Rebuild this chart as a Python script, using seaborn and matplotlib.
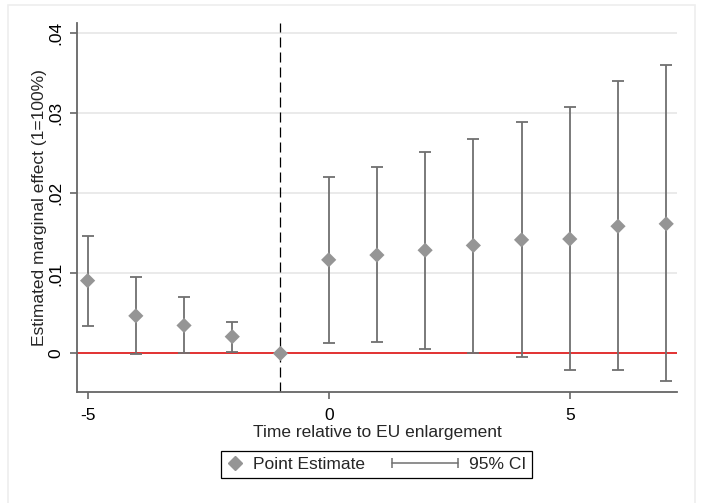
import numpy as np
import pandas as pd
import matplotlib
matplotlib.use("Agg")
import matplotlib.pyplot as plt
import seaborn as sns
from matplotlib.lines import Line2D
from matplotlib.patches import Rectangle
from matplotlib.legend_handler import HandlerLine2D
from matplotlib.ticker import FuncFormatter

# event-time coefficients
periods = [-5, -4, -3, -2, -1, 0, 1, 2, 3, 4, 5, 6, 7]
estimate = [0.0091, 0.0047, 0.0035, 0.0021, 0.0, 0.0117, 0.0123, 0.0129,
            0.0135, 0.0142, 0.0143, 0.0159, 0.0162]
ci_low = [0.0034, -0.0001, 0.0001, 0.0002, None, 0.0013, 0.0014, 0.0006,
          0.0001, -0.0004, -0.0021, -0.0021, -0.0034]
ci_high = [0.0147, 0.0096, 0.0070, 0.0039, None, 0.0221, 0.0233, 0.0252,
           0.0268, 0.0289, 0.0308, 0.0340, 0.0360]
y_ticks = [0, 0.01, 0.02, 0.03, 0.04]
x_ticks = [-5, 0, 5]

df = pd.DataFrame({'t': periods, 'b': estimate, 'lo': ci_low, 'hi': ci_high})
ci = df.dropna(subset=['lo', 'hi'])

sns.set_style("white")
plt.rcParams['font.family'] = ['Liberation Sans', 'DejaVu Sans']
plt.rcParams['axes.unicode_minus'] = False

fs = 12.5

fig = plt.figure(figsize=(7.02, 5.03), dpi=100)
fig.patches.append(Rectangle((8/702, -0.05), 687/702, 1.05 - 5/503, transform=fig.transFigure,
                             fill=False, edgecolor='#eeeeee', linewidth=1.2))
ax = fig.add_axes([77/702, 1 - 391.7/503, 600.3/702, 368.7/503])

pt_col = '#959595'
ci_col = '#707070'

# grid lines
for yt in y_ticks:
    ax.axhline(yt, color='#e8e8e8', linewidth=1.3, zorder=0)

ax.axhline(0, color='#e00000', linewidth=1.1, zorder=1)
ax.axvline(-1, color='black', linewidth=0.9, linestyle=(0, (8, 4)), zorder=1)

ax.errorbar(ci['t'], ci['b'], yerr=[ci['b'] - ci['lo'], ci['hi'] - ci['b']],
            fmt='none', ecolor=ci_col, elinewidth=1.3, capsize=4.5, capthick=1.3, zorder=2)
sns.scatterplot(data=df, x='t', y='b', marker='D', s=60, color=pt_col,
                edgecolor='none', ax=ax, zorder=3, legend=False)

ax.set_xlim(-5.22, 7.23)
ax.set_ylim(-0.00478, 0.0413)
ax.set_xticks(x_ticks)
ax.set_yticks(y_ticks)
ax.yaxis.set_major_formatter(FuncFormatter(lambda v, p: '0' if v == 0 else ('%.2f' % v).lstrip('0')))
for lab in ax.get_yticklabels():
    lab.set_rotation(90)
    lab.set_va('center')
ax.tick_params(axis='both', direction='out', length=5, width=1.2, color='#666666',
               labelsize=fs, labelcolor='black', pad=5, left=True, bottom=True)
ax.tick_params(axis='x', pad=7)

for side in ['top', 'right']:
    ax.spines[side].set_visible(False)
for side in ['left', 'bottom']:
    ax.spines[side].set_color('#666666')
    ax.spines[side].set_linewidth(1.3)

ax.set_xlabel('Time relative to EU enlargement', fontsize=fs, labelpad=1)
ax.set_ylabel('Estimated marginal effect (1=100%)', fontsize=fs, labelpad=1)


class CIHandler(HandlerLine2D):
    def get_xdata(self, legend, xdescent, ydescent, width, height, fontsize):
        x = np.array([-xdescent - 2.9 * fontsize, -xdescent + width])
        return x, x


h_pt = Line2D([], [], linestyle='none', marker='D', markersize=7, color=pt_col)
h_ci = Line2D([], [], color=ci_col, linewidth=1.1, marker='|', markersize=7,
              markeredgewidth=1.1)
leg = fig.legend([h_pt, h_ci], ['Point Estimate', '95% CI'], loc='center',
                 bbox_to_anchor=(376.5/702, 1 - 464.5/503), ncol=2, fontsize=fs,
                 frameon=True, fancybox=False, edgecolor='black', framealpha=1,
                 handlelength=0.9, handletextpad=0.6, columnspacing=4.45,
                 borderpad=0.35, numpoints=1,
                 handler_map={h_ci: CIHandler(numpoints=2)})
leg.get_frame().set_linewidth(0.9)

fig.savefig('out.png', dpi=100)
